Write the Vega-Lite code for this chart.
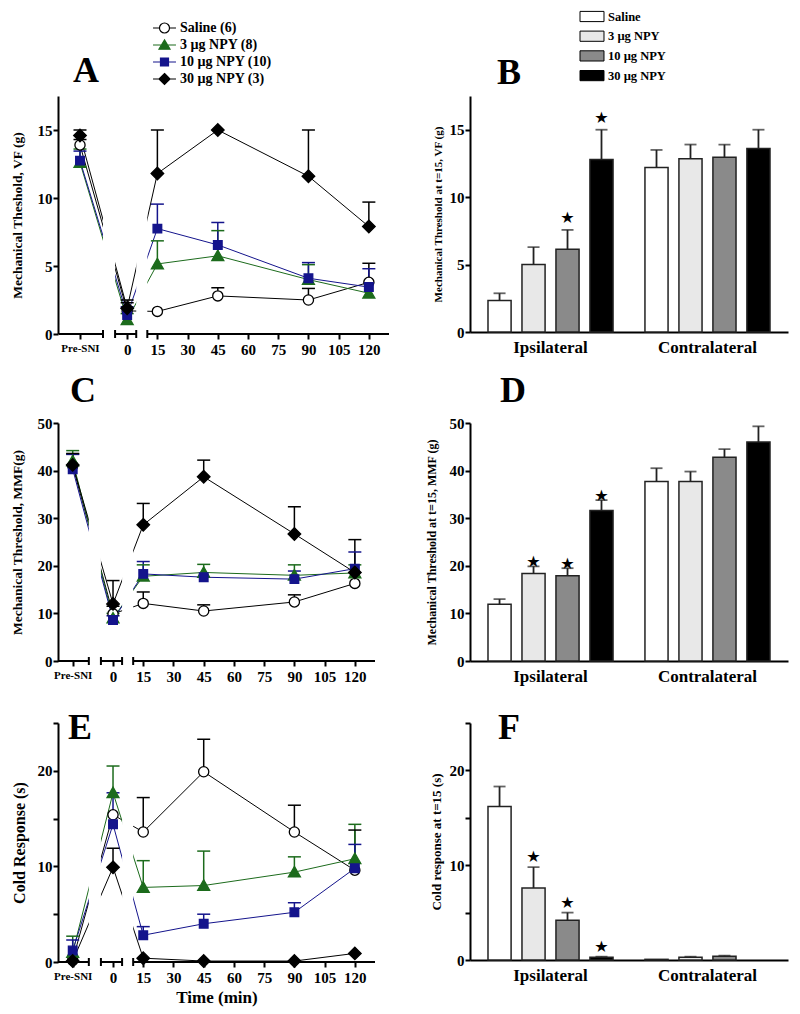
{
"$schema": "https://vega.github.io/schema/vega-lite/v6.json",
"autosize": {"type": "none"},
"padding": {"left": 58, "top": 96, "right": 742, "bottom": 918},
"background": "white",
"datasets": {
"vf": [
{"series":"Saline (6)","t":-20,"mean":13.9,"hi":14.3},
{"series":"Saline (6)","t":0,"mean":1.7,"hi":2.3},
{"series":"Saline (6)","t":15,"mean":1.66,"hi":1.66},
{"series":"Saline (6)","t":45,"mean":2.8,"hi":3.4},
{"series":"Saline (6)","t":90,"mean":2.5,"hi":3.35},
{"series":"Saline (6)","t":120,"mean":3.8,"hi":5.2},
{"series":"3 µg NPY (8)","t":-20,"mean":12.6,"hi":13.6},
{"series":"3 µg NPY (8)","t":0,"mean":1.05,"hi":1.5},
{"series":"3 µg NPY (8)","t":15,"mean":5.15,"hi":6.85},
{"series":"3 µg NPY (8)","t":45,"mean":5.75,"hi":7.6},
{"series":"3 µg NPY (8)","t":90,"mean":4.0,"hi":5.1},
{"series":"3 µg NPY (8)","t":120,"mean":3.0,"hi":3.0},
{"series":"10 µg NPY (10)","t":-20,"mean":12.75,"hi":13.45},
{"series":"10 µg NPY (10)","t":0,"mean":1.4,"hi":2.0},
{"series":"10 µg NPY (10)","t":15,"mean":7.75,"hi":9.55},
{"series":"10 µg NPY (10)","t":45,"mean":6.55,"hi":8.2},
{"series":"10 µg NPY (10)","t":90,"mean":4.1,"hi":5.25},
{"series":"10 µg NPY (10)","t":120,"mean":3.45,"hi":4.8},
{"series":"30 µg NPY (3)","t":-20,"mean":14.6,"hi":15.0},
{"series":"30 µg NPY (3)","t":0,"mean":1.9,"hi":2.5},
{"series":"30 µg NPY (3)","t":15,"mean":11.8,"hi":15.0},
{"series":"30 µg NPY (3)","t":45,"mean":15.0,"hi":15.0},
{"series":"30 µg NPY (3)","t":90,"mean":11.6,"hi":15.0},
{"series":"30 µg NPY (3)","t":120,"mean":7.9,"hi":9.7}
],
"mmf": [
{"series":"Saline (6)","t":-20,"mean":41.0,"hi":43.5},
{"series":"Saline (6)","t":0,"mean":9.9,"hi":11.5},
{"series":"Saline (6)","t":15,"mean":12.1,"hi":14.5},
{"series":"Saline (6)","t":45,"mean":10.5,"hi":11.8},
{"series":"Saline (6)","t":90,"mean":12.4,"hi":13.9},
{"series":"Saline (6)","t":120,"mean":16.3,"hi":16.3},
{"series":"3 µg NPY (8)","t":-20,"mean":42.0,"hi":44.2},
{"series":"3 µg NPY (8)","t":0,"mean":9.0,"hi":10.0},
{"series":"3 µg NPY (8)","t":15,"mean":17.8,"hi":20.2},
{"series":"3 µg NPY (8)","t":45,"mean":18.6,"hi":20.3},
{"series":"3 µg NPY (8)","t":90,"mean":18.0,"hi":20.2},
{"series":"3 µg NPY (8)","t":120,"mean":18.5,"hi":20.2},
{"series":"10 µg NPY (10)","t":-20,"mean":40.3,"hi":43.4},
{"series":"10 µg NPY (10)","t":0,"mean":8.6,"hi":9.5},
{"series":"10 µg NPY (10)","t":15,"mean":18.3,"hi":20.9},
{"series":"10 µg NPY (10)","t":45,"mean":17.6,"hi":17.6},
{"series":"10 µg NPY (10)","t":90,"mean":17.2,"hi":18.9},
{"series":"10 µg NPY (10)","t":120,"mean":19.4,"hi":22.9},
{"series":"30 µg NPY (3)","t":-20,"mean":41.2,"hi":43.6},
{"series":"30 µg NPY (3)","t":0,"mean":12.0,"hi":16.9},
{"series":"30 µg NPY (3)","t":15,"mean":28.6,"hi":33.1},
{"series":"30 µg NPY (3)","t":45,"mean":38.7,"hi":42.2},
{"series":"30 µg NPY (3)","t":90,"mean":26.7,"hi":32.4},
{"series":"30 µg NPY (3)","t":120,"mean":18.6,"hi":25.5}
],
"cold": [
{"series":"Saline (6)","t":-20,"mean":0.2,"hi":0.2},
{"series":"Saline (6)","t":0,"mean":15.4,"hi":15.4},
{"series":"Saline (6)","t":15,"mean":13.6,"hi":17.2},
{"series":"Saline (6)","t":45,"mean":19.9,"hi":23.3},
{"series":"Saline (6)","t":90,"mean":13.6,"hi":16.4},
{"series":"Saline (6)","t":120,"mean":9.6,"hi":13.8},
{"series":"3 µg NPY (8)","t":-20,"mean":1.0,"hi":2.7},
{"series":"3 µg NPY (8)","t":0,"mean":17.7,"hi":20.5},
{"series":"3 µg NPY (8)","t":15,"mean":7.8,"hi":10.6},
{"series":"3 µg NPY (8)","t":45,"mean":8.0,"hi":11.6},
{"series":"3 µg NPY (8)","t":90,"mean":9.4,"hi":11.0},
{"series":"3 µg NPY (8)","t":120,"mean":10.8,"hi":14.4},
{"series":"10 µg NPY (10)","t":-20,"mean":1.2,"hi":2.3},
{"series":"10 µg NPY (10)","t":0,"mean":14.4,"hi":17.7},
{"series":"10 µg NPY (10)","t":15,"mean":2.8,"hi":3.7},
{"series":"10 µg NPY (10)","t":45,"mean":4.0,"hi":5.0},
{"series":"10 µg NPY (10)","t":90,"mean":5.2,"hi":6.2},
{"series":"10 µg NPY (10)","t":120,"mean":9.8,"hi":12.3},
{"series":"30 µg NPY (3)","t":-20,"mean":0.1,"hi":0.1},
{"series":"30 µg NPY (3)","t":0,"mean":9.9,"hi":11.9},
{"series":"30 µg NPY (3)","t":15,"mean":0.4,"hi":0.4},
{"series":"30 µg NPY (3)","t":45,"mean":0.1,"hi":0.1},
{"series":"30 µg NPY (3)","t":90,"mean":0.1,"hi":0.1},
{"series":"30 µg NPY (3)","t":120,"mean":0.9,"hi":0.9}
],
"vfbar": [
{"side":"Ipsilateral","treatment":"Saline","mean":2.33,"hi":2.87,"star":false},
{"side":"Ipsilateral","treatment":"3 µg NPY","mean":5.0,"hi":6.3,"star":false},
{"side":"Ipsilateral","treatment":"10 µg NPY","mean":6.14,"hi":7.57,"star":true},
{"side":"Ipsilateral","treatment":"30 µg NPY","mean":12.8,"hi":15.0,"star":true},
{"side":"Contralateral","treatment":"Saline","mean":12.2,"hi":13.5,"star":false},
{"side":"Contralateral","treatment":"3 µg NPY","mean":12.85,"hi":13.9,"star":false},
{"side":"Contralateral","treatment":"10 µg NPY","mean":12.95,"hi":13.9,"star":false},
{"side":"Contralateral","treatment":"30 µg NPY","mean":13.6,"hi":15.0,"star":false}
],
"mmfbar": [
{"side":"Ipsilateral","treatment":"Saline","mean":11.9,"hi":13.0,"star":false},
{"side":"Ipsilateral","treatment":"3 µg NPY","mean":18.4,"hi":19.9,"star":true},
{"side":"Ipsilateral","treatment":"10 µg NPY","mean":17.9,"hi":19.5,"star":true},
{"side":"Ipsilateral","treatment":"30 µg NPY","mean":31.6,"hi":33.8,"star":true},
{"side":"Contralateral","treatment":"Saline","mean":37.7,"hi":40.5,"star":false},
{"side":"Contralateral","treatment":"3 µg NPY","mean":37.7,"hi":39.8,"star":false},
{"side":"Contralateral","treatment":"10 µg NPY","mean":42.8,"hi":44.5,"star":false},
{"side":"Contralateral","treatment":"30 µg NPY","mean":46.0,"hi":49.3,"star":false}
],
"coldbar": [
{"side":"Ipsilateral","treatment":"Saline","mean":16.2,"hi":18.3,"star":false},
{"side":"Ipsilateral","treatment":"3 µg NPY","mean":7.6,"hi":9.8,"star":true},
{"side":"Ipsilateral","treatment":"10 µg NPY","mean":4.2,"hi":5.0,"star":true},
{"side":"Ipsilateral","treatment":"30 µg NPY","mean":0.3,"hi":0.35,"star":true},
{"side":"Contralateral","treatment":"Saline","mean":0.07,"hi":0.07,"star":false},
{"side":"Contralateral","treatment":"3 µg NPY","mean":0.3,"hi":0.35,"star":false},
{"side":"Contralateral","treatment":"10 µg NPY","mean":0.4,"hi":0.45,"star":false}
],
"xseg": [{"t": -27.3, "t2": -12, "y0": 0}, {"t": -6, "t2": 4.5, "y0": 0}, {"t": 10, "t2": 130, "y0": 0}],
"xcap": [{"t": -12, "y0": 0}, {"t": -6, "y0": 0}, {"t": 4.5, "y0": 0}, {"t": 10, "y0": 0}]
},
"columns": 2,
"spacing": {"row": 62, "column": 81},
"bounds": "flush",
"align": "each",
"resolve": {"scale": {"xOffset": "independent"}},
"concat": [
 {
  "width": 331, "height": 265,
  "title": {"text": "A", "dx": 15, "offset": 6},
  "data": {"name": "vf"},
  "encoding": {
   "x": {"field": "t", "type": "quantitative", "scale": {"domain": [-27.65, -12, 130], "range": [0, 45, 331], "nice": false, "zero": false},
     "axis": {"values": [-20,0,15,30,45,60,75,90,105,120], "domain": false, "offset": -27, "title": null, "labelExpr": "datum.value == -20 ? 'Pre-SNI' : datum.label", "labelFontSize": {"condition": {"test": "datum.value == -20", "value": 11}, "value": 15}, "labelFlush": false, "labelOverlap": false, "labelPadding": 3}},
   "y": {"field": "mean", "type": "quantitative", "scale": {"domain": [0, 17.5], "range": [238, 0], "nice": false, "zero": false},
     "axis": {"values": [0,5,10,15], "title": "Mechanical Theshold, VF (g)", "titleFontSize": 13.5, "titleX": -34, "titleY": 119, "titleAngle": -90, "titleBaseline": "bottom", "titleAlign": "center"}}
  },
  "layer": [
   {"mark": {"type": "line", "strokeWidth": 1},
    "encoding": {"stroke": {"field": "series", "type": "nominal", "scale": {"domain": ["Saline (6)","3 µg NPY (8)","10 µg NPY (10)","30 µg NPY (3)"], "range": ["#000000","#1c6b1c","#14148c","#000000"]},
      "legend": {"title": null, "orient": "none", "legendX": 97, "legendY": -77.5, "labelFont": "Liberation Serif", "labelFontSize": 14, "labelFontWeight": "bold", "labelColor": "black", "rowPadding": -2.5, "labelOffset": 6, "symbolSize": 289, "symbolStrokeWidth": 1.2, "encode": {"symbols": {"update": {"shape": {"signal": "datum.value === 'Saline (6)' ? 'M-1.35,0H-0.59M0.59,0H1.35M-0.59,0A0.59,0.59,0,1,1,0.59,0A0.59,0.59,0,1,1,-0.59,0Z' : datum.value === '3 µg NPY (8)' ? 'M-1.35,0H1.35M0,-0.6L0.65,0.5L-0.65,0.5Z' : datum.value === '10 µg NPY (10)' ? 'M-1.35,0H1.35M-0.47,-0.47H0.47V0.47H-0.47Z' : 'M-1.35,0H1.35M0,-0.65L0.65,0L0,0.65L-0.65,0Z'"}}}}}}}},
   {"data": {"values": [{"t": -12, "t2": -6, "lo": 0, "top": 17.5}, {"t": 4.5, "t2": 10, "lo": 0, "top": 17.5}]}, "mark": {"type": "rect", "fill": "white", "fillOpacity": 1},
    "encoding": {"x2": {"field": "t2"}, "y": {"field": "lo", "type": "quantitative", "scale": {"domain": [0, 17.5], "range": [238, 0], "nice": false, "zero": false}}, "y2": {"field": "top"}}},
   {"data": {"name": "xseg"}, "mark": {"type": "rule", "color": "black", "strokeWidth": 2},
    "encoding": {"x2": {"field": "t2"}, "y": {"field": "y0", "type": "quantitative", "scale": {"domain": [0, 17.5], "range": [238, 0], "nice": false, "zero": false}}}},
   {"data": {"name": "xcap"}, "mark": {"type": "rule", "color": "black", "strokeWidth": 2, "yOffset": -4, "y2Offset": 4},
    "encoding": {"y": {"field": "y0", "type": "quantitative", "scale": {"domain": [0, 17.5], "range": [238, 0], "nice": false, "zero": false}}, "y2": {"field": "y0"}}},
   {"transform": [{"filter": "datum.hi > datum.mean"}], "mark": {"type": "rule", "strokeWidth": 1.5},
    "encoding": {"y2": {"field": "hi"}, "stroke": {"field": "series", "type": "nominal"}}},
   {"transform": [{"filter": "datum.hi > datum.mean"}], "mark": {"type": "rule", "strokeWidth": 1.5, "xOffset": -6.5, "x2Offset": 6.5},
    "encoding": {"x2": {"field": "t"}, "y": {"field": "hi", "type": "quantitative", "scale": {"domain": [0, 17.5], "range": [238, 0], "nice": false, "zero": false}}, "stroke": {"field": "series", "type": "nominal"}}},
   {"transform": [{"filter": "datum.series === 'Saline (6)'"}], "mark": {"type": "point", "filled": true, "size": 144, "strokeWidth": 1.3, "opacity": 1, "shape": "M-0.85,0A0.85,0.85,0,1,1,0.85,0A0.85,0.85,0,1,1,-0.85,0Z"},
    "encoding": {"fill": {"field": "series", "type": "nominal", "scale": {"domain": ["Saline (6)","3 µg NPY (8)","10 µg NPY (10)","30 µg NPY (3)"], "range": ["#ffffff","#1c6b1c","#14148c","#000000"]}}, "stroke": {"field": "series", "type": "nominal"}}},
   {"transform": [{"filter": "datum.series === '3 µg NPY (8)'"}], "mark": {"type": "point", "filled": true, "size": 144, "strokeWidth": 1.3, "opacity": 1, "shape": "M0,-0.95L1,0.8L-1,0.8Z"},
    "encoding": {"fill": {"field": "series", "type": "nominal"}, "stroke": {"field": "series", "type": "nominal"}}},
   {"transform": [{"filter": "datum.series === '10 µg NPY (10)'"}], "mark": {"type": "point", "filled": true, "size": 144, "strokeWidth": 1.3, "opacity": 1, "shape": "M-0.72,-0.72H0.72V0.72H-0.72Z"},
    "encoding": {"fill": {"field": "series", "type": "nominal"}, "stroke": {"field": "series", "type": "nominal"}}},
   {"transform": [{"filter": "datum.series === '30 µg NPY (3)'"}], "mark": {"type": "point", "filled": true, "size": 144, "strokeWidth": 1.3, "opacity": 1, "shape": "M0,-1.05L1.05,0L0,1.05L-1.05,0Z"},
    "encoding": {"fill": {"field": "series", "type": "nominal"}, "stroke": {"field": "series", "type": "nominal"}}}
  ]
 },
 {
  "width": 318, "height": 265,
  "title": {"text": "B", "dx": 27, "offset": 4},
  "data": {"name": "vfbar"},
  "encoding": {
   "x": {"field": "side", "type": "nominal", "sort": ["Ipsilateral","Contralateral"], "scale": {"paddingInner": 0.134, "paddingOuter": 0.08}, "axis": {"title": null, "ticks": false, "labelAngle": 0, "labelFontSize": 17, "labelPadding": 7, "offset": -29}},
   "xOffset": {"field": "treatment", "type": "nominal", "sort": ["Saline","3 µg NPY","10 µg NPY","30 µg NPY"], "scale": {"paddingInner": 0.32, "paddingOuter": 0.16}},
   "y": {"field": "mean", "type": "quantitative", "scale": {"domain": [0, 17.5], "range": [236, 0], "nice": false, "zero": false}, "axis": {"values": [0,5,10,15], "title": "Mechanical Threshold at t=15, VF (g)", "titleFontSize": 11, "titleX": -27, "titleY": 118, "titleAngle": -90, "titleBaseline": "bottom", "titleAlign": "center"}}
  },
  "layer": [
   {"mark": {"type": "bar", "stroke": "#222222", "strokeWidth": 1.5},
    "encoding": {"color": {"field": "treatment", "type": "nominal", "scale": {"domain": ["Saline","3 µg NPY","10 µg NPY","30 µg NPY"], "range": ["#ffffff","#e8e8e8","#8a8a8a","#000000"]},
      "legend": {"title": null, "orient": "none", "legendX": 525, "legendY": -88.5, "labelFont": "Liberation Serif", "labelFontSize": 12.5, "labelFontWeight": "bold", "labelColor": "black", "rowPadding": 2.7, "labelOffset": 7, "symbolSize": 289, "symbolStrokeColor": "black", "symbolStrokeWidth": 1, "encode": {"symbols": {"update": {"shape": {"value": "M-1.41,-0.6H1.41V0.6H-1.41Z"}, "stroke": {"value": "black"}, "strokeWidth": {"value": 1}}}}}}}},
   {"transform": [{"filter": "datum.hi > datum.mean"}], "mark": {"type": "rule", "strokeWidth": 1.8, "color": "#222222"}, "encoding": {"y2": {"field": "hi"}}},
   {"transform": [{"filter": "datum.hi > datum.mean"}], "mark": {"type": "tick", "size": 12, "thickness": 1.8, "color": "#222222"}, "encoding": {"y": {"field": "hi", "type": "quantitative", "scale": {"domain": [0, 17.5], "range": [236, 0], "nice": false, "zero": false}}}},
   {"transform": [{"filter": "datum.star"}], "mark": {"type": "text", "text": "★", "font": "DejaVu Sans", "fontSize": 16, "baseline": "middle", "dy": -12, "color": "black"}, "encoding": {"y": {"field": "hi", "type": "quantitative", "scale": {"domain": [0, 17.5], "range": [236, 0], "nice": false, "zero": false}}}}
  ]
 },
 {
  "width": 317, "height": 238,
  "title": {"text": "C", "dx": 12, "offset": 6},
  "data": {"name": "mmf"},
  "encoding": {
   "x": {"field": "t", "type": "quantitative", "scale": {"domain": [-27.3, 130], "nice": false, "zero": false},
     "axis": {"values": [-20,0,15,30,45,60,75,90,105,120], "domain": false, "title": null, "labelExpr": "datum.value == -20 ? 'Pre-SNI' : datum.label", "labelFontSize": {"condition": {"test": "datum.value == -20", "value": 11}, "value": 15}, "labelFlush": false, "labelOverlap": false, "labelPadding": 3}},
   "y": {"field": "mean", "type": "quantitative", "scale": {"domain": [0, 50], "nice": false, "zero": false},
     "axis": {"values": [0,10,20,30,40,50], "title": "Mechanical Threshold, MMF(g)", "titleFontSize": 13.5, "titleX": -34, "titleY": 119, "titleAngle": -90, "titleBaseline": "bottom", "titleAlign": "center"}}
  },
  "layer": [
   {"mark": {"type": "line", "strokeWidth": 1},
    "encoding": {"stroke": {"field": "series", "type": "nominal"}}},
   {"data": {"values": [{"t": -12, "t2": -6, "lo": 0, "top": 50}, {"t": 4.5, "t2": 10, "lo": 0, "top": 50}]}, "mark": {"type": "rect", "fill": "white", "fillOpacity": 1},
    "encoding": {"x2": {"field": "t2"}, "y": {"field": "lo", "type": "quantitative", "scale": {"domain": [0, 50], "nice": false, "zero": false}}, "y2": {"field": "top"}}},
   {"data": {"name": "xseg"}, "mark": {"type": "rule", "color": "black", "strokeWidth": 2},
    "encoding": {"x2": {"field": "t2"}, "y": {"field": "y0", "type": "quantitative", "scale": {"domain": [0, 50], "nice": false, "zero": false}}}},
   {"data": {"name": "xcap"}, "mark": {"type": "rule", "color": "black", "strokeWidth": 2, "yOffset": -4, "y2Offset": 4},
    "encoding": {"y": {"field": "y0", "type": "quantitative", "scale": {"domain": [0, 50], "nice": false, "zero": false}}, "y2": {"field": "y0"}}},
   {"transform": [{"filter": "datum.hi > datum.mean"}], "mark": {"type": "rule", "strokeWidth": 1.5},
    "encoding": {"y2": {"field": "hi"}, "stroke": {"field": "series", "type": "nominal"}}},
   {"transform": [{"filter": "datum.hi > datum.mean"}], "mark": {"type": "rule", "strokeWidth": 1.5, "xOffset": -6.5, "x2Offset": 6.5},
    "encoding": {"x2": {"field": "t"}, "y": {"field": "hi", "type": "quantitative", "scale": {"domain": [0, 50], "nice": false, "zero": false}}, "stroke": {"field": "series", "type": "nominal"}}},
   {"transform": [{"filter": "datum.series === 'Saline (6)'"}], "mark": {"type": "point", "filled": true, "size": 144, "strokeWidth": 1.3, "opacity": 1, "shape": "M-0.85,0A0.85,0.85,0,1,1,0.85,0A0.85,0.85,0,1,1,-0.85,0Z"},
    "encoding": {"fill": {"field": "series", "type": "nominal"}, "stroke": {"field": "series", "type": "nominal"}}},
   {"transform": [{"filter": "datum.series === '3 µg NPY (8)'"}], "mark": {"type": "point", "filled": true, "size": 144, "strokeWidth": 1.3, "opacity": 1, "shape": "M0,-0.95L1,0.8L-1,0.8Z"},
    "encoding": {"fill": {"field": "series", "type": "nominal"}, "stroke": {"field": "series", "type": "nominal"}}},
   {"transform": [{"filter": "datum.series === '10 µg NPY (10)'"}], "mark": {"type": "point", "filled": true, "size": 144, "strokeWidth": 1.3, "opacity": 1, "shape": "M-0.72,-0.72H0.72V0.72H-0.72Z"},
    "encoding": {"fill": {"field": "series", "type": "nominal"}, "stroke": {"field": "series", "type": "nominal"}}},
   {"transform": [{"filter": "datum.series === '30 µg NPY (3)'"}], "mark": {"type": "point", "filled": true, "size": 144, "strokeWidth": 1.3, "opacity": 1, "shape": "M0,-1.05L1.05,0L0,1.05L-1.05,0Z"},
    "encoding": {"fill": {"field": "series", "type": "nominal"}, "stroke": {"field": "series", "type": "nominal"}}}
  ]
 },
 {
  "width": 318, "height": 238,
  "title": {"text": "D", "dx": 30, "offset": 6},
  "data": {"name": "mmfbar"},
  "encoding": {
   "x": {"field": "side", "type": "nominal", "sort": ["Ipsilateral","Contralateral"], "scale": {"paddingInner": 0.134, "paddingOuter": 0.08}, "axis": {"title": null, "ticks": false, "labelAngle": 0, "labelFontSize": 17, "labelPadding": 7}},
   "xOffset": {"field": "treatment", "type": "nominal", "sort": ["Saline","3 µg NPY","10 µg NPY","30 µg NPY"], "scale": {"paddingInner": 0.32, "paddingOuter": 0.16}},
   "y": {"field": "mean", "type": "quantitative", "scale": {"domain": [0, 50], "nice": false, "zero": false}, "axis": {"values": [0,10,20,30,40,50], "title": "Mechanical Threshold at t=15, MMF (g)", "titleFontSize": 12, "titleX": -32, "titleY": 119, "titleAngle": -90, "titleBaseline": "bottom", "titleAlign": "center"}}
  },
  "layer": [
   {"mark": {"type": "bar", "stroke": "#222222", "strokeWidth": 1.5},
    "encoding": {"color": {"field": "treatment", "type": "nominal"}}},
   {"transform": [{"filter": "datum.hi > datum.mean"}], "mark": {"type": "rule", "strokeWidth": 1.8, "color": "#222222"}, "encoding": {"y2": {"field": "hi"}}},
   {"transform": [{"filter": "datum.hi > datum.mean"}], "mark": {"type": "tick", "size": 12, "thickness": 1.8, "color": "#222222"}, "encoding": {"y": {"field": "hi", "type": "quantitative", "scale": {"domain": [0, 50], "nice": false, "zero": false}}}},
   {"transform": [{"filter": "datum.star"}], "mark": {"type": "text", "text": "★", "font": "DejaVu Sans", "fontSize": 16, "baseline": "middle", "dy": -4, "color": "black"}, "encoding": {"y": {"field": "hi", "type": "quantitative", "scale": {"domain": [0, 50], "nice": false, "zero": false}}}}
  ]
 },
 {
  "width": 317, "height": 239,
  "title": {"text": "E", "dx": 10, "offset": -25},
  "data": {"name": "cold"},
  "encoding": {
   "x": {"field": "t", "type": "quantitative", "scale": {"domain": [-27.3, 130], "nice": false, "zero": false},
     "axis": {"values": [-20,0,15,30,45,60,75,90,105,120], "domain": false, "title": "Time (min)", "titleFontSize": 17, "titlePadding": 4, "labelExpr": "datum.value == -20 ? 'Pre-SNI' : datum.label", "labelFontSize": {"condition": {"test": "datum.value == -20", "value": 11}, "value": 15}, "labelFlush": false, "labelOverlap": false, "labelPadding": 3}},
   "y": {"field": "mean", "type": "quantitative", "scale": {"domain": [0, 25], "nice": false, "zero": false},
     "axis": {"values": [0,5,10,15,20,25], "labelExpr": "datum.value % 10 === 0 ? datum.label : ''", "title": "Cold Response (s)", "titleFontSize": 16, "titleX": -31, "titleY": 119.5, "titleAngle": -90, "titleBaseline": "bottom", "titleAlign": "center"}}
  },
  "layer": [
   {"mark": {"type": "line", "strokeWidth": 1},
    "encoding": {"stroke": {"field": "series", "type": "nominal"}}},
   {"data": {"values": [{"t": -12, "t2": -6, "lo": 0, "top": 25}, {"t": 4.5, "t2": 10, "lo": 0, "top": 25}]}, "mark": {"type": "rect", "fill": "white", "fillOpacity": 1},
    "encoding": {"x2": {"field": "t2"}, "y": {"field": "lo", "type": "quantitative", "scale": {"domain": [0, 25], "nice": false, "zero": false}}, "y2": {"field": "top"}}},
   {"data": {"name": "xseg"}, "mark": {"type": "rule", "color": "black", "strokeWidth": 2},
    "encoding": {"x2": {"field": "t2"}, "y": {"field": "y0", "type": "quantitative", "scale": {"domain": [0, 25], "nice": false, "zero": false}}}},
   {"data": {"name": "xcap"}, "mark": {"type": "rule", "color": "black", "strokeWidth": 2, "yOffset": -4, "y2Offset": 4},
    "encoding": {"y": {"field": "y0", "type": "quantitative", "scale": {"domain": [0, 25], "nice": false, "zero": false}}, "y2": {"field": "y0"}}},
   {"transform": [{"filter": "datum.hi > datum.mean"}], "mark": {"type": "rule", "strokeWidth": 1.5},
    "encoding": {"y2": {"field": "hi"}, "stroke": {"field": "series", "type": "nominal"}}},
   {"transform": [{"filter": "datum.hi > datum.mean"}], "mark": {"type": "rule", "strokeWidth": 1.5, "xOffset": -6.5, "x2Offset": 6.5},
    "encoding": {"x2": {"field": "t"}, "y": {"field": "hi", "type": "quantitative", "scale": {"domain": [0, 25], "nice": false, "zero": false}}, "stroke": {"field": "series", "type": "nominal"}}},
   {"transform": [{"filter": "datum.series === 'Saline (6)'"}], "mark": {"type": "point", "filled": true, "size": 144, "strokeWidth": 1.3, "opacity": 1, "shape": "M-0.85,0A0.85,0.85,0,1,1,0.85,0A0.85,0.85,0,1,1,-0.85,0Z"},
    "encoding": {"fill": {"field": "series", "type": "nominal"}, "stroke": {"field": "series", "type": "nominal"}}},
   {"transform": [{"filter": "datum.series === '3 µg NPY (8)'"}], "mark": {"type": "point", "filled": true, "size": 144, "strokeWidth": 1.3, "opacity": 1, "shape": "M0,-0.95L1,0.8L-1,0.8Z"},
    "encoding": {"fill": {"field": "series", "type": "nominal"}, "stroke": {"field": "series", "type": "nominal"}}},
   {"transform": [{"filter": "datum.series === '10 µg NPY (10)'"}], "mark": {"type": "point", "filled": true, "size": 144, "strokeWidth": 1.3, "opacity": 1, "shape": "M-0.72,-0.72H0.72V0.72H-0.72Z"},
    "encoding": {"fill": {"field": "series", "type": "nominal"}, "stroke": {"field": "series", "type": "nominal"}}},
   {"transform": [{"filter": "datum.series === '30 µg NPY (3)'"}], "mark": {"type": "point", "filled": true, "size": 144, "strokeWidth": 1.3, "opacity": 1, "shape": "M0,-1.05L1.05,0L0,1.05L-1.05,0Z"},
    "encoding": {"fill": {"field": "series", "type": "nominal"}, "stroke": {"field": "series", "type": "nominal"}}}
  ]
 },
 {
  "width": 318, "height": 237,
  "title": {"text": "F", "dx": 28, "offset": -25},
  "data": {"name": "coldbar"},
  "encoding": {
   "x": {"field": "side", "type": "nominal", "sort": ["Ipsilateral","Contralateral"], "scale": {"paddingInner": 0.134, "paddingOuter": 0.08}, "axis": {"title": null, "ticks": false, "labelAngle": 0, "labelFontSize": 17, "labelPadding": 7}},
   "xOffset": {"field": "treatment", "type": "nominal", "sort": ["Saline","3 µg NPY","10 µg NPY","30 µg NPY"], "scale": {"domain": ["Saline","3 µg NPY","10 µg NPY","30 µg NPY"], "paddingInner": 0.32, "paddingOuter": 0.16}},
   "y": {"field": "mean", "type": "quantitative", "scale": {"domain": [0, 25], "nice": false, "zero": false}, "axis": {"values": [0,5,10,15,20,25], "labelExpr": "datum.value % 10 === 0 ? datum.label : ''", "title": "Cold response at t=15 (s)", "titleFontSize": 13, "titleX": -27, "titleY": 118.5, "titleAngle": -90, "titleBaseline": "bottom", "titleAlign": "center"}}
  },
  "layer": [
   {"mark": {"type": "bar", "stroke": "#222222", "strokeWidth": 1.5},
    "encoding": {"color": {"field": "treatment", "type": "nominal"}}},
   {"transform": [{"filter": "datum.hi > datum.mean"}], "mark": {"type": "rule", "strokeWidth": 1.8, "color": "#222222"}, "encoding": {"y2": {"field": "hi"}}},
   {"transform": [{"filter": "datum.hi > datum.mean"}], "mark": {"type": "tick", "size": 12, "thickness": 1.8, "color": "#222222"}, "encoding": {"y": {"field": "hi", "type": "quantitative", "scale": {"domain": [0, 25], "nice": false, "zero": false}}}},
   {"transform": [{"filter": "datum.star"}], "mark": {"type": "text", "text": "★", "font": "DejaVu Sans", "fontSize": 16, "baseline": "middle", "dy": -10, "color": "black"}, "encoding": {"y": {"field": "hi", "type": "quantitative", "scale": {"domain": [0, 25], "nice": false, "zero": false}}}}
  ]
 }
],
"config": {
 "view": {"stroke": null},
 "font": "Liberation Serif",
 "axis": {"domainColor": "black", "tickColor": "black", "labelColor": "black", "titleColor": "black", "labelFont": "Liberation Serif", "titleFont": "Liberation Serif", "labelFontWeight": "bold", "titleFontWeight": "bold", "domainWidth": 2, "tickWidth": 2, "tickSize": 5, "grid": false, "labelFontSize": 15, "labelPadding": 1},
 "title": {"font": "Liberation Serif", "fontSize": 36, "fontWeight": "bold", "anchor": "start", "frame": "group", "color": "black", "baseline": "alphabetic"}
}
}
